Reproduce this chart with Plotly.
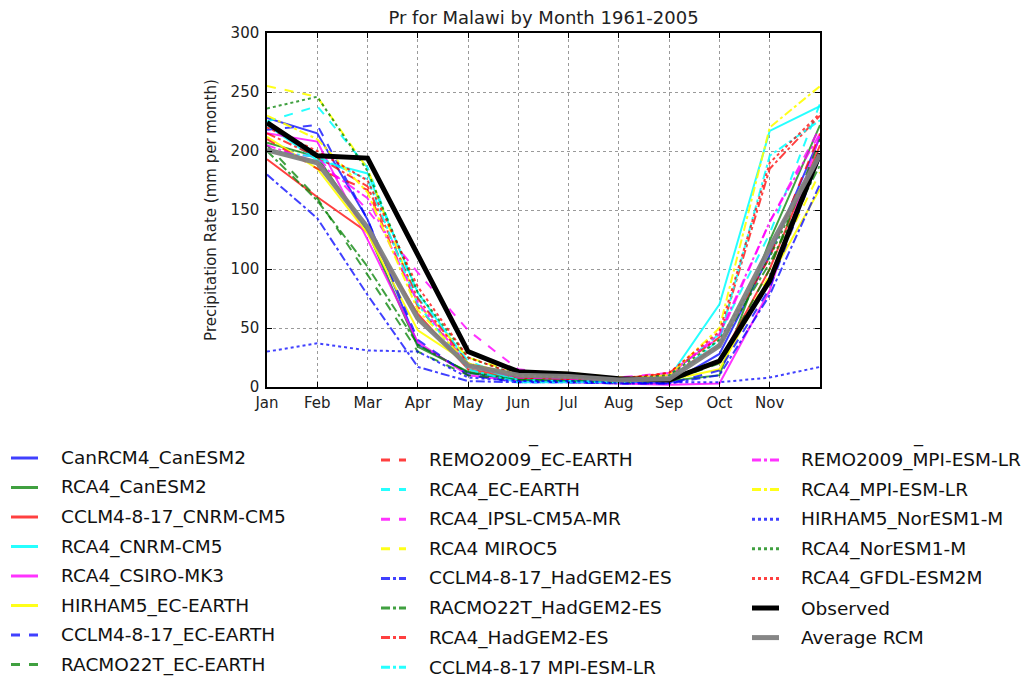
import plotly.graph_objects as go

# Monthly precipitation (mm per month), Malawi, 1961-2005
months = ["Jan", "Feb", "Mar", "Apr", "May", "Jun", "Jul", "Aug", "Sep", "Oct", "Nov", "Dec"]
tick_labels = ["Jan", "Feb", "Mar", "Apr", "May", "Jun", "Jul", "Aug", "Sep", "Oct", "Nov"]

CanRCM4_CanESM2 = [228, 215, 142, 36, 12, 6, 5, 4, 3, 28, 112, 212]
RCA4_CanESM2 = [207, 195, 132, 34, 13, 7, 6, 5, 5, 10, 124, 222]
CCLM4_8_17_CNRM_CM5 = [193, 161, 131, 62, 15, 8, 7, 5, 5, 22, 100, 205]
RCA4_CNRM_CM5 = [222, 192, 181, 80, 20, 5, 5, 5, 8, 70, 217, 238]
RCA4_CSIRO_MK3 = [215, 208, 125, 38, 10, 5, 4, 3, 2, 3, 82, 214]
HIRHAM5_EC_EARTH = [212, 185, 130, 48, 20, 10, 9, 6, 6, 15, 92, 168]
CCLM4_8_17_EC_EARTH = [218, 222, 142, 40, 10, 4, 4, 3, 3, 14, 84, 195]
RACMO22T_EC_EARTH = [205, 160, 95, 30, 10, 6, 5, 4, 5, 20, 100, 210]
REMO2009_EC_EARTH = [210, 185, 167, 68, 20, 8, 7, 8, 10, 35, 110, 215]
RCA4_EC_EARTH = [225, 238, 186, 76, 22, 6, 5, 5, 10, 45, 130, 240]
RCA4_IPSL_CM5A_MR = [200, 195, 150, 97, 48, 15, 10, 8, 12, 42, 140, 220]
RCA4_MIROC5 = [255, 246, 185, 70, 25, 12, 12, 8, 7, 20, 95, 182]
CCLM4_8_17_HadGEM2_ES = [180, 143, 78, 17, 5, 4, 4, 3, 3, 10, 78, 172]
RACMO22T_HadGEM2_ES = [200, 158, 102, 36, 12, 6, 5, 5, 8, 35, 105, 188]
RCA4_HadGEM2_ES = [215, 195, 170, 75, 20, 8, 7, 6, 12, 42, 185, 230]
CCLM4_8_17_MPI_ESM_LR = [200, 195, 176, 70, 15, 4, 4, 4, 6, 40, 196, 226]
REMO2009_MPI_ESM_LR = [205, 190, 160, 72, 18, 8, 7, 6, 10, 45, 140, 215]
RCA4_MPI_ESM_LR = [230, 210, 165, 65, 20, 10, 9, 7, 10, 50, 220, 255]
HIRHAM5_NorESM1_M = [30, 37, 31, 30, 8, 5, 5, 4, 4, 4, 8, 17]
RCA4_NorESM1_M = [236, 246, 183, 80, 25, 10, 8, 7, 10, 40, 110, 200]
RCA4_GFDL_ESM2M = [220, 200, 175, 85, 25, 10, 8, 7, 12, 47, 190, 232]
Observed = [224, 196, 194, 112, 30, 13, 11, 7, 6, 22, 90, 198]
Average_RCM = [201, 190, 135, 58, 18, 10, 9, 6, 7, 35, 118, 197]

BLUE = "rgba(0,0,255,0.75)"
GREEN = "rgba(0,128,0,0.75)"
RED = "rgba(255,0,0,0.75)"
CYAN = "rgba(0,255,255,0.85)"
MAGENTA = "rgba(255,0,255,0.8)"
YELLOW = "rgba(255,255,0,0.9)"
BLACK = "black"
GREY = "rgba(128,128,128,0.95)"

# (label, values, colour, dash, width)
series = [
    ("CanRCM4_CanESM2", CanRCM4_CanESM2, BLUE, "solid", 2),
    ("RCA4_CanESM2", RCA4_CanESM2, GREEN, "solid", 2),
    ("CCLM4-8-17_CNRM-CM5", CCLM4_8_17_CNRM_CM5, RED, "solid", 2),
    ("RCA4_CNRM-CM5", RCA4_CNRM_CM5, CYAN, "solid", 2),
    ("RCA4_CSIRO-MK3", RCA4_CSIRO_MK3, MAGENTA, "solid", 2),
    ("HIRHAM5_EC-EARTH", HIRHAM5_EC_EARTH, YELLOW, "solid", 2),
    ("CCLM4-8-17_EC-EARTH", CCLM4_8_17_EC_EARTH, BLUE, "dash", 2),
    ("RACMO22T_EC-EARTH", RACMO22T_EC_EARTH, GREEN, "dash", 2),
    ("REMO2009_EC-EARTH", REMO2009_EC_EARTH, RED, "dash", 2),
    ("RCA4_EC-EARTH", RCA4_EC_EARTH, CYAN, "dash", 2),
    ("RCA4_IPSL-CM5A-MR", RCA4_IPSL_CM5A_MR, MAGENTA, "dash", 2),
    ("RCA4 MIROC5", RCA4_MIROC5, YELLOW, "dash", 2),
    ("CCLM4-8-17_HadGEM2-ES", CCLM4_8_17_HadGEM2_ES, BLUE, "dashdot", 2),
    ("RACMO22T_HadGEM2-ES", RACMO22T_HadGEM2_ES, GREEN, "dashdot", 2),
    ("RCA4_HadGEM2-ES", RCA4_HadGEM2_ES, RED, "dashdot", 2),
    ("CCLM4-8-17 MPI-ESM-LR", CCLM4_8_17_MPI_ESM_LR, CYAN, "dashdot", 2),
    ("REMO2009_MPI-ESM-LR", REMO2009_MPI_ESM_LR, MAGENTA, "dashdot", 2),
    ("RCA4_MPI-ESM-LR", RCA4_MPI_ESM_LR, YELLOW, "dashdot", 2),
    ("HIRHAM5_NorESM1-M", HIRHAM5_NorESM1_M, BLUE, "dot", 2),
    ("RCA4_NorESM1-M", RCA4_NorESM1_M, GREEN, "dot", 2),
    ("RCA4_GFDL-ESM2M", RCA4_GFDL_ESM2M, RED, "dot", 2),
    ("Observed", Observed, BLACK, "solid", 5),
    ("Average RCM", Average_RCM, GREY, "solid", 5),
]

# Plot area in pixels (left, right, top, bottom)
PL, PR, PT, PB = 267, 820, 33, 387
W, H = 1024, 678


def px_to_paper(xp, yp):
    return (xp - PL) / (PR - PL), (PB - yp) / (PB - PT)


x = list(range(len(months)))
fig = go.Figure()
for name, vals, color, dash, width in series:
    fig.add_trace(go.Scatter(
        x=x, y=vals, mode="lines", name=name, showlegend=False,
        line=dict(color=color, width=width, dash=dash),
    ))

FONT = "DejaVu Sans"

# Three-column key below the axes: (sample x0, sample x1, text x, first row y, row step)
columns = [(11, 38, 59, 458, 29.5), (381, 406, 427, 460, 29.6), (752, 779, 799, 460, 29.6)]
shapes, annotations = [], []
for idx, (name, vals, color, dash, width) in enumerate(series):
    col, row = divmod(idx, 8)
    x0, x1, tx, y0, step = columns[col]
    yy = y0 + row * step
    a0, b0 = px_to_paper(x0, yy)
    a1, _ = px_to_paper(x1, yy)
    shapes.append(dict(type="line", xref="paper", yref="paper", x0=a0, x1=a1, y0=b0, y1=b0,
                       line=dict(color=color, width=3 if width < 4 else 5, dash=dash)))
    at, _ = px_to_paper(tx, yy)
    annotations.append(dict(text=name, xref="paper", yref="paper", x=at, y=b0,
                            xanchor="left", yanchor="middle", showarrow=False,
                            font=dict(family=FONT, size=18.5, color="#111")))

# stray underscore marks above the second and third key columns
for ux in (533, 918):
    a, b = px_to_paper(ux, 436)
    annotations.append(dict(text="_", xref="paper", yref="paper", x=a, y=b, showarrow=False,
                            xanchor="center", yanchor="middle",
                            font=dict(family=FONT, size=18, color="#111")))

fig.update_layout(
    width=W, height=H,
    paper_bgcolor="white", plot_bgcolor="white",
    margin=dict(l=PL, r=W - PR, t=PT, b=H - PB, autoexpand=False),
    font=dict(family=FONT, size=15, color="#222"),
    title=dict(text="Pr for Malawi by Month 1961-2005", x=(PL + PR) / 2 / W, xanchor="center",
               y=1 - 18 / H, yanchor="middle", font=dict(family=FONT, size=18, color="#222")),
    showlegend=False,
    shapes=shapes,
    annotations=annotations,
)

grid = dict(showgrid=True, gridcolor="#9a9a9a", griddash="3px,3px", gridwidth=1)
fig.update_xaxes(
    range=[0, 11], tickvals=list(range(len(tick_labels))), ticktext=tick_labels,
    showline=True, linecolor="black", linewidth=1.5, mirror="ticks",
    ticks="inside", ticklen=5, tickcolor="black", zeroline=False, ticklabelstandoff=1,
    tickfont=dict(family=FONT, size=15, color="#222"), **grid,
)
fig.update_yaxes(
    range=[0, 300], tickvals=[0, 50, 100, 150, 200, 250, 300],
    showline=True, linecolor="black", linewidth=1.5, mirror="ticks",
    ticks="inside", ticklen=5, tickcolor="black", zeroline=False, ticklabelstandoff=3,
    tickfont=dict(family=FONT, size=15, color="#222"),
    title=dict(text="Precipitation Rate (mm per month)", standoff=10,
               font=dict(family=FONT, size=15, color="#222")),
    **grid,
)

fig.write_html("out.html")
